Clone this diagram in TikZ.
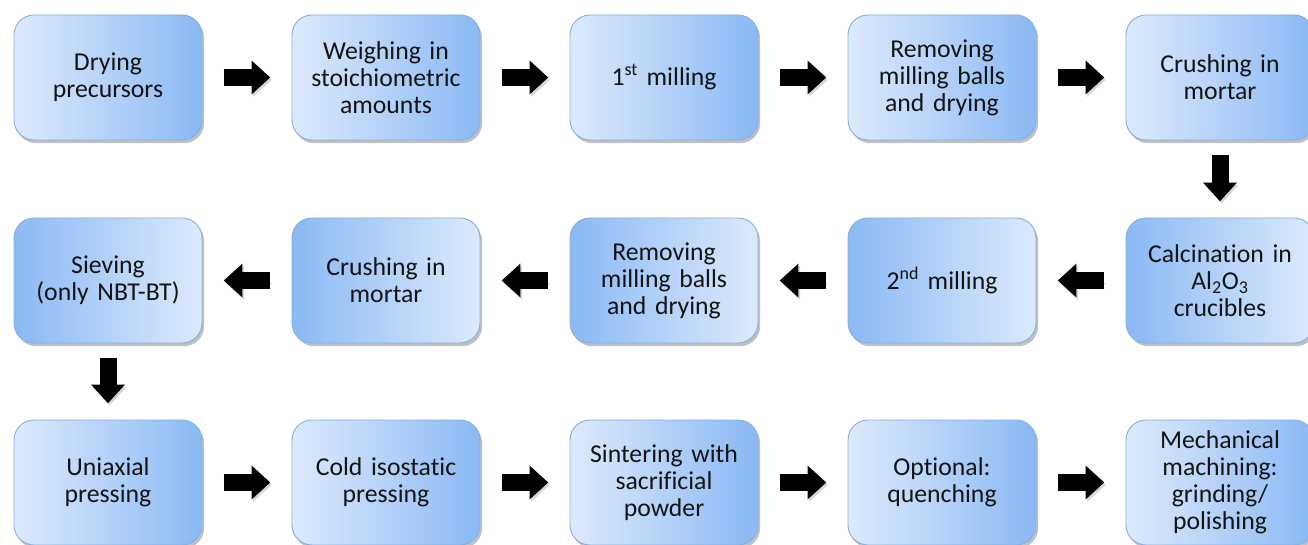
\documentclass[tikz,border=0pt]{standalone}
\usepackage{fontspec}
\setmainfont[Ligatures={NoCommon}]{Carlito}
\usetikzlibrary{arrows.meta,shadows}
\definecolor{boxlight}{RGB}{221,234,252}
\definecolor{boxdark}{RGB}{138,185,244}
\definecolor{boxline}{RGB}{130,175,225}
\definecolor{txt}{RGB}{20,20,20}
\tikzset{
  stepbox/.style={draw=boxline, line width=0.7pt, rounded corners=15pt,
    minimum width=141pt, minimum height=93.75pt, text width=138pt,
    align=center, text=txt, inner sep=0pt,
    font=\fontsize{19.3pt}{20.25pt}\selectfont,
    drop shadow={shadow xshift=1.6pt, shadow yshift=-2.4pt, opacity=0.35, fill=black!70}},
  fwdbox/.style={stepbox, left color=boxlight, right color=boxdark},
  backbox/.style={stepbox, left color=boxdark, right color=boxlight},
  barrow/.style={line width=12.75pt, draw=black,
    -{Triangle[width=25.5pt, length=14pt, line width=0pt]},
    preaction={draw=black!45, opacity=0.35,
      transform canvas={xshift=1.2pt, yshift=-1.8pt}}},
  hshort/.style={shorten <=16pt, shorten >=16pt},
  vshort/.style={shorten <=11.25pt, shorten >=12.25pt}
}
\begin{document}
\begin{tikzpicture}[x=0.75pt, y=-0.75pt]
\useasboundingbox (0,0) rectangle (1308,545);
% row 1
\node[fwdbox] (a1) at (108,77.5) {Drying\\precursors};
\node[fwdbox] (a2) at (386,77.5) {Weighing in\\stoichiometric\\amounts};
\node[fwdbox] (a3) at (664,77.5) {1\textsuperscript{st} milling};
\node[fwdbox] (a4) at (942,77.5) {Removing\\milling balls\\and drying};
\node[fwdbox] (a5) at (1220,77.5) {Crushing in\\mortar};
% row 2
\node[backbox] (b5) at (1220,280.5) {Calcination in\\Al\textsubscript{2}O\textsubscript{3}\\crucibles};
\node[backbox] (b4) at (942,280.5) {2\textsuperscript{nd} milling};
\node[backbox] (b3) at (664,280.5) {Removing\\milling balls\\and drying};
\node[backbox] (b2) at (386,280.5) {Crushing in\\mortar};
\node[backbox] (b1) at (108,280.5) {Sieving\\(only NBT-BT)};
% row 3
\node[fwdbox] (c1) at (108,482.5) {Uniaxial\\pressing};
\node[fwdbox] (c2) at (386,482.5) {Cold isostatic\\pressing};
\node[fwdbox] (c3) at (664,482.5) {Sintering with\\sacrificial\\powder};
\node[fwdbox] (c4) at (942,482.5) {Optional:\\quenching};
\node[fwdbox] (c5) at (1220,482.5) {Mechanical\\machining:\\grinding/\\polishing};
% arrows
\draw[barrow, hshort] (a1) -- (a2);
\draw[barrow, hshort] (a2) -- (a3);
\draw[barrow, hshort] (a3) -- (a4);
\draw[barrow, hshort] (a4) -- (a5);
\draw[barrow, vshort] (a5) -- (b5);
\draw[barrow, hshort] (b5) -- (b4);
\draw[barrow, hshort] (b4) -- (b3);
\draw[barrow, hshort] (b3) -- (b2);
\draw[barrow, hshort] (b2) -- (b1);
\draw[barrow, vshort] (b1) -- (c1);
\draw[barrow, hshort] (c1) -- (c2);
\draw[barrow, hshort] (c2) -- (c3);
\draw[barrow, hshort] (c3) -- (c4);
\draw[barrow, hshort] (c4) -- (c5);
\end{tikzpicture}
\end{document}
